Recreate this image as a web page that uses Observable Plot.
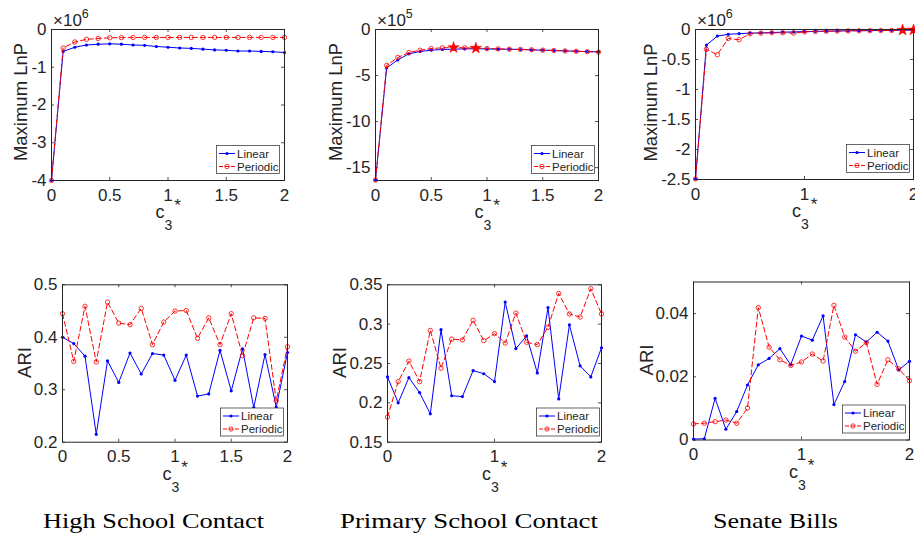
<!DOCTYPE html>
<html><head><meta charset="utf-8">
<script src="https://cdn.jsdelivr.net/npm/d3@7"></script>
<script src="https://cdn.jsdelivr.net/npm/@observablehq/plot@0.6"></script>
<style>
body{margin:0;background:#fff;}
#fig{position:relative;width:915px;height:537px;overflow:hidden;background:#fff;}
</style></head><body><div id="fig"></div>
<script>
// ---------- data ----------
const c3 = [0,0.1,0.2,0.3,0.4,0.5,0.6,0.7,0.8,0.9,1,1.1,1.2,1.3,1.4,1.5,1.6,1.7,1.8,1.9,2];
const seriesNames = ["Linear","Periodic"];
const datasetNames = ["High School Contact","Primary School Contact","Senate Bills"];
const lnpExponents = ["6","5","6"];

// Maximum LnP (in units of 10^exponent)
const hscLnPLinear   = [-4,-0.58,-0.47,-0.41,-0.39,-0.38,-0.39,-0.41,-0.42,-0.45,-0.47,-0.49,-0.50,-0.52,-0.54,-0.55,-0.57,-0.57,-0.58,-0.59,-0.61];
const hscLnPPeriodic = [-4,-0.49,-0.33,-0.26,-0.24,-0.22,-0.215,-0.21,-0.21,-0.21,-0.21,-0.21,-0.21,-0.21,-0.21,-0.21,-0.21,-0.21,-0.21,-0.21,-0.21];
const pscLnPLinear   = [-16.35,-4.17,-3.3,-2.64,-2.39,-2.25,-2.17,-2.14,-2.1,-2.1,-2.1,-2.14,-2.14,-2.17,-2.21,-2.25,-2.28,-2.32,-2.36,-2.39,-2.43];
const pscLnPPeriodic = [-16.35,-3.9,-3.04,-2.5,-2.25,-2.07,-1.99,-1.96,-1.99,-2.03,-2.07,-2.1,-2.14,-2.16,-2.2,-2.24,-2.28,-2.33,-2.37,-2.41,-2.46];
const pscStarX = [0.7,0.9];
const pscStarY = [-1.96,-2.03];
const senLnPLinear   = [-2.49,-0.26,-0.11,-0.08,-0.07,-0.06,-0.056,-0.05,-0.045,-0.04,-0.035,-0.03,-0.028,-0.025,-0.022,-0.02,-0.018,-0.016,-0.014,-0.012,-0.01];
const senLnPPeriodic = [-2.49,-0.33,-0.42,-0.15,-0.17,-0.07,-0.06,-0.055,-0.055,-0.06,-0.04,-0.032,-0.029,-0.026,-0.023,-0.021,-0.019,-0.017,-0.015,-0.01,-0.008];
const senStarX = [1.9,2];
const senStarY = [-0.01,-0.008];

// ARI
const hscAriLinear   = [0.400,0.388,0.364,0.215,0.355,0.314,0.370,0.330,0.369,0.366,0.318,0.366,0.288,0.292,0.375,0.298,0.378,0.266,0.367,0.267,0.371];
const hscAriPeriodic = [0.445,0.354,0.459,0.353,0.467,0.427,0.424,0.455,0.386,0.429,0.450,0.451,0.398,0.437,0.386,0.445,0.365,0.437,0.436,0.279,0.382];
const pscAriLinear   = [0.233,0.200,0.232,0.213,0.186,0.293,0.209,0.208,0.241,0.237,0.227,0.328,0.269,0.285,0.238,0.321,0.205,0.299,0.247,0.233,0.270];
const pscAriPeriodic = [0.182,0.227,0.253,0.227,0.292,0.244,0.281,0.280,0.305,0.279,0.288,0.276,0.314,0.277,0.274,0.296,0.339,0.313,0.309,0.345,0.313];
const senAriLinear   = [0.0003,0.0004,0.0132,0.0034,0.0090,0.0174,0.0238,0.0258,0.0289,0.0238,0.0329,0.0316,0.0393,0.0112,0.0185,0.0333,0.0310,0.0341,0.0313,0.0222,0.0249];
const senAriPeriodic = [0.0051,0.0053,0.0058,0.0063,0.0053,0.0101,0.0419,0.0294,0.0254,0.0236,0.0247,0.0272,0.0250,0.0426,0.0326,0.0281,0.0308,0.0176,0.0254,0.0225,0.0188];

// tick values
const xTicksFine = [0,0.5,1,1.5,2];
const xTicksCoarse = [0,1,2];
const hscLnPTicks = [-4,-3,-2,-1,0];
const pscLnPTicks = [-15,-10,-5,0];
const senLnPTicks = [-2.5,-2,-1.5,-1,-0.5,0];
const hscAriTicks = [0.2,0.3,0.4,0.5];
const pscAriTicks = [0.15,0.2,0.25,0.3,0.35];
const senAriTicks = [0,0.02,0.04];

// ---------- layout ----------
const INK = "#262626";
const SANS = "Liberation Sans, Arial, Helvetica, sans-serif";
const panels = [
  {box:[0,0,305,240],   frame:[51,284,29,180],   y:[-4,0],      xt:xTicksFine,   yt:hscLnPTicks, lin:hscLnPLinear, per:hscLnPPeriodic, ylabel:"Maximum LnP", ylab:[20,102],  exp:lnpExponents[0], expPos:[53,26],  leg:[216,145]},
  {box:[305,0,305,240], frame:[375,598,29,180],  y:[-16.4,0],   xt:xTicksFine,   yt:pscLnPTicks, lin:pscLnPLinear, per:pscLnPPeriodic, sx:pscStarX, sy:pscStarY, ylabel:"Maximum LnP", ylab:[335,102], exp:lnpExponents[1], expPos:[377,26], leg:[531,145]},
  {box:[610,0,305,240], frame:[695,913,29,179],  y:[-2.5,0],    xt:xTicksCoarse, yt:senLnPTicks, lin:senLnPLinear, per:senLnPPeriodic, sx:senStarX, sy:senStarY, ylabel:"Maximum LnP", ylab:[650,102.5], exp:lnpExponents[2], expPos:[697,26], leg:[846,144]},
  {box:[0,240,305,260], frame:[62,287,284.3,441.7], y:[0.2,0.5],  xt:xTicksFine,   yt:hscAriTicks, lin:hscAriLinear, per:hscAriPeriodic, ylabel:"ARI", ylab:[24,362.5], leg:[220,407.5]},
  {box:[305,240,305,260], frame:[387,601,284.3,441.7], y:[0.15,0.35], xt:xTicksCoarse, yt:pscAriTicks, lin:pscAriLinear, per:pscAriPeriodic, ylabel:"ARI", ylab:[339,362.5], leg:[536,407.5]},
  {box:[610,240,305,260], frame:[693,909,281.5,439.5], y:[0,0.05],  xt:xTicksCoarse, yt:senAriTicks, lin:senAriLinear, per:senAriPeriodic, ylabel:"ARI", ylab:[646,360], leg:[842,404.5]}
];
const captions = [
  {text:datasetNames[0], cx:153.5, w:221},
  {text:datasetNames[1], cx:469,   w:258},
  {text:datasetNames[2], cx:775.5, w:125}
];

const fig = document.getElementById("fig");
const fmt = d => String(d);

panels.forEach(p => {
  const [bx,by,bw,bh] = p.box;
  const [L,R,T,B] = p.frame;
  const innerW = R - L, innerH = B - T;
  const lin = c3.map((x,i) => ({x, y:p.lin[i]}));
  const per = c3.map((x,i) => ({x, y:p.per[i]}));
  const stars = p.sx ? p.sx.map((x,i) => ({x, y:p.sy[i]})) : [];
  const tk = 3;
  const chart = Plot.plot({
    width: bw, height: bh,
    marginLeft: L - bx, marginRight: bx + bw - R, marginTop: T - by, marginBottom: by + bh - B,
    x: {domain:[0,2]},
    y: {domain:p.y},
    style: {fontFamily: SANS, fontSize: "17px", color: INK, background: "transparent", overflow: "visible"},
    marks: [
      Plot.axisX({ticks:p.xt, tickSize:0, tickPadding:8, tickFormat:fmt, label:null, fontSize:17, fill:INK}),
      Plot.axisY({ticks:p.yt, tickSize:0, tickPadding:5, tickFormat:fmt, label:null, fontSize:17, fill:INK}),
      Plot.tickX(p.xt, {x:d=>d, insetTop:innerH - tk, stroke:INK, strokeWidth:0.8}),
      Plot.tickX(p.xt, {x:d=>d, insetBottom:innerH - tk, stroke:INK, strokeWidth:0.8}),
      Plot.tickY(p.yt, {y:d=>d, insetRight:innerW - tk, stroke:INK, strokeWidth:0.8}),
      Plot.tickY(p.yt, {y:d=>d, insetLeft:innerW - tk, stroke:INK, strokeWidth:0.8}),
      Plot.line(lin, {x:"x", y:"y", stroke:"#0000ff", strokeWidth:1}),
      Plot.dot(lin, {x:"x", y:"y", r:1.6, fill:"#0000ff"}),
      Plot.line(per, {x:"x", y:"y", stroke:"#ff0000", strokeWidth:1, strokeDasharray:"5,3"}),
      Plot.dot(per, {x:"x", y:"y", r:2.2, stroke:"#ff0000", strokeWidth:0.8, fill:"none"}),
      Plot.dot(stars, {x:"x", y:"y", symbol:"star", r:3.6, fill:"#ff0000", stroke:"#ff0000", strokeWidth:0.5}),
      Plot.frame({stroke:INK, strokeWidth:1})
    ]
  });
  chart.style.position = "absolute";
  chart.style.left = bx + "px";
  chart.style.top = by + "px";
  fig.appendChild(chart);
});

// ---------- annotations overlay ----------
const svg = d3.create("svg").attr("width",915).attr("height",537)
  .style("position","absolute").style("left","0px").style("top","0px")
  .style("font-family", SANS);

panels.forEach((p, k) => {
  const [L,R,T,B] = p.frame;
  // y label
  svg.append("text")
    .attr("transform", `translate(${p.ylab[0]},${p.ylab[1]}) rotate(-90)`)
    .attr("text-anchor","middle").attr("dy","0.36em")
    .attr("font-size",18.5).attr("fill",INK).text(p.ylabel);
  // x label c3*
  const cx = (L + R) / 2 - 12;
  const base = B + 38;
  const t = svg.append("text").attr("x",cx).attr("y",base).attr("fill",INK).attr("font-size",18);
  t.append("tspan").text("c");
  t.append("tspan").attr("font-size",14).attr("dy",12).text("3");
  t.append("tspan").attr("font-size",17).attr("dx",2).attr("dy",-19).text("*");
  // exponent
  if (p.exp) {
    const e = svg.append("text").attr("x",p.expPos[0]).attr("y",p.expPos[1]).attr("fill",INK).attr("font-size",17);
    e.append("tspan").text("\u00d710");
    e.append("tspan").attr("font-size",12.5).attr("dy",-8).text(p.exp);
  }
  // legend
  const g = svg.append("g").attr("transform",`translate(${p.leg[0]},${p.leg[1]})`);
  g.append("rect").attr("x",0.5).attr("y",0.5).attr("width",63).attr("height",28)
    .attr("fill","#fff").attr("stroke",INK).attr("stroke-width",0.7);
  g.append("line").attr("x1",3).attr("x2",19).attr("y1",8.5).attr("y2",8.5).attr("stroke","#0000ff").attr("stroke-width",1);
  g.append("circle").attr("cx",11).attr("cy",8.5).attr("r",1.6).attr("fill","#0000ff");
  g.append("line").attr("x1",3).attr("x2",19).attr("y1",21.5).attr("y2",21.5).attr("stroke","#ff0000").attr("stroke-width",1).attr("stroke-dasharray","4,2");
  g.append("circle").attr("cx",11).attr("cy",21.5).attr("r",2.2).attr("fill","none").attr("stroke","#ff0000").attr("stroke-width",0.8);
  g.append("text").attr("x",21).attr("y",8.5).attr("dy","0.35em").attr("font-size",11.5).attr("fill",INK).text(seriesNames[0]);
  g.append("text").attr("x",21).attr("y",21.5).attr("dy","0.35em").attr("font-size",11.5).attr("fill",INK).text(seriesNames[1]);
});

captions.forEach(c => {
  svg.append("text").attr("x",c.cx).attr("y",528).attr("text-anchor","middle")
    .attr("font-family","Liberation Serif, DejaVu Serif, serif").attr("font-size",22)
    .attr("textLength",c.w).attr("lengthAdjust","spacingAndGlyphs")
    .attr("fill","#000").text(c.text);
});

fig.appendChild(svg.node());
</script></body></html>
